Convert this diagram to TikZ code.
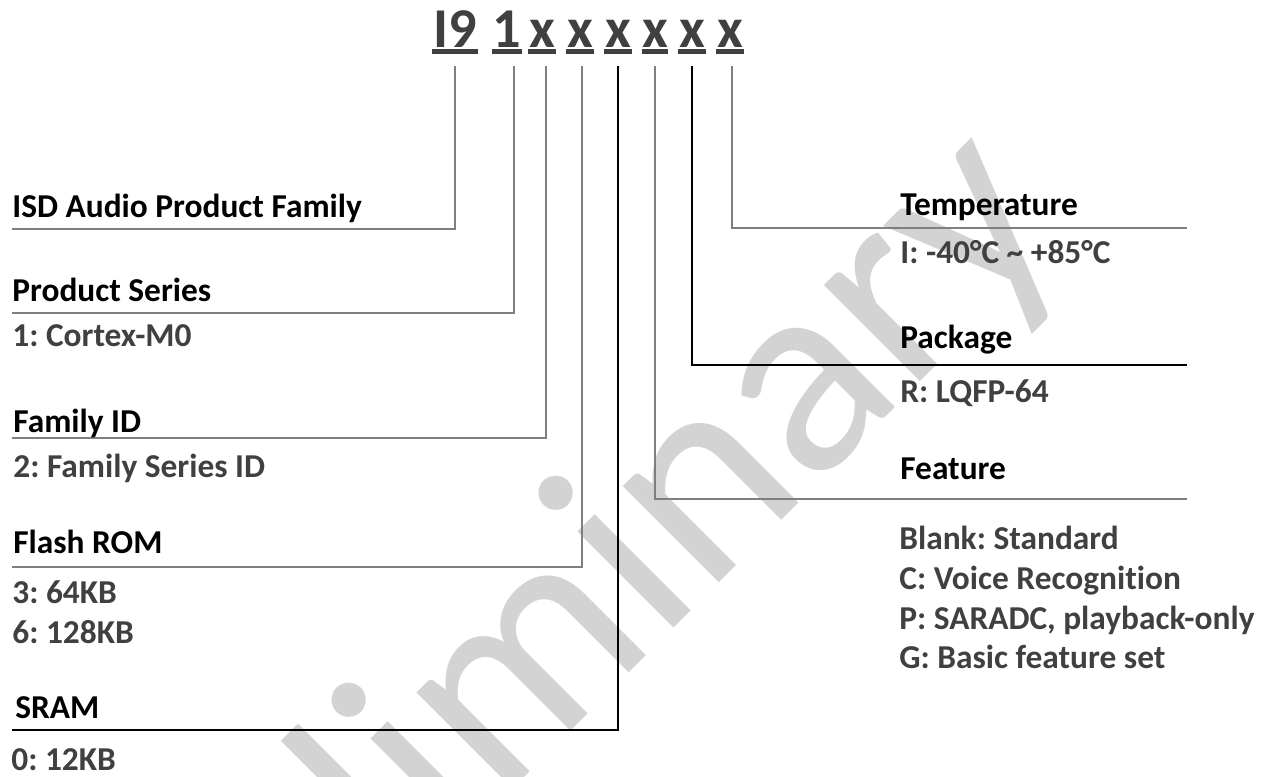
\documentclass[tikz,border=0pt]{standalone}
\usepackage{fontspec}
\setmainfont{Carlito}[Ligatures={NoCommon}]
\frenchspacing
\definecolor{codegray}{HTML}{404040}
\definecolor{valgray}{HTML}{404040}
\definecolor{linegray}{HTML}{7F7F7F}
\definecolor{wmgray}{HTML}{D3D3D3}
\tikzset{
  head/.style={font=\fontsize{19}{23}\selectfont\bfseries, text=black, inner sep=0pt, anchor=base west},
  value/.style={head, text=valgray},
  codebit/.style={font=\fontsize{32}{38}\selectfont\bfseries, text=codegray, inner sep=0pt, text depth=0pt, anchor=base},
  uline/.style={codegray, line width=1mm},
  conn/.style={linegray, line width=0.3mm},
}

\begin{document}
\begin{tikzpicture}[x=0.2mm, y=-0.2mm]
\useasboundingbox (0,0) rectangle (1272,776);

% watermark
\node[text=wmgray, font=\fontsize{162}{162}\selectfont, rotate=45, anchor=base, inner sep=0pt] (wmark) at (602,700) {Preliminary};

% part number
\node[codebit, minimum width=9.2mm] (cisd) at (455,47) {I9};
\node[codebit, minimum width=6mm] (cser) at (507,47) {1};
\node[codebit, minimum width=5.6mm] (cfam) at (542,47) {x};
\node[codebit, minimum width=5.6mm] (cflash) at (580,47) {x};
\node[codebit, minimum width=5.6mm] (csram) at (618,47) {x};
\node[codebit, minimum width=5.2mm] (cfeat) at (655,47) {x};
\node[codebit, minimum width=5.6mm] (cpkg) at (692,47) {x};
\node[codebit, minimum width=5.6mm] (ctemp) at (730,47) {x};

\draw [uline] ([yshift=-0.9mm]cisd.south west) -- ([yshift=-0.9mm]cisd.south east);
\draw [uline] ([yshift=-0.9mm]cser.south west) -- ([yshift=-0.9mm]cser.south east);
\draw [uline] ([yshift=-0.9mm]cfam.south west) -- ([yshift=-0.9mm]cfam.south east);
\draw [uline] ([yshift=-0.9mm]cflash.south west) -- ([yshift=-0.9mm]cflash.south east);
\draw [uline] ([yshift=-0.9mm]csram.south west) -- ([yshift=-0.9mm]csram.south east);
\draw [uline] ([yshift=-0.9mm]cfeat.south west) -- ([yshift=-0.9mm]cfeat.south east);
\draw [uline] ([yshift=-0.9mm]cpkg.south west) -- ([yshift=-0.9mm]cpkg.south east);
\draw [uline] ([yshift=-0.9mm]ctemp.south west) -- ([yshift=-0.9mm]ctemp.south east);

% line ends
\coordinate (isdend) at (12,229);
\coordinate (serend) at (12,313);
\coordinate (famend) at (12,438);
\coordinate (flashend) at (12,567);
\coordinate (sramend) at (12,730);
\coordinate (tempend) at (1187,228);
\coordinate (pkgend) at (1187,365);
\coordinate (featend) at (1187,499);

\draw [conn] ([yshift=-3.8mm]cisd.south) |- (isdend);
\draw [conn] ([xshift=1.4mm,yshift=-3.8mm]cser.south) |- (serend);
\draw [conn] ([xshift=0.8mm,yshift=-3.8mm]cfam.south) |- (famend);
\draw [conn] ([xshift=0.4mm,yshift=-3.8mm]cflash.south) |- (flashend);
\draw [conn, black] ([yshift=-3.8mm]csram.south) |- (sramend);
\draw [conn] ([yshift=-3.8mm]cfeat.south) |- (featend);
\draw [conn, black] ([yshift=-3.8mm]cpkg.south) |- (pkgend);
\draw [conn] ([xshift=0.4mm,yshift=-3.8mm]ctemp.south) |- (tempend);

% left labels
\node[head] (isd) at (12,217) {ISD Audio Product Family};
\node[head] (series) at (12,301) {Product Series};
\node[value] (seriesv) at (12,346) {1: Cortex-M0};
\node[head] (famid) at (13,432) {Family ID};
\node[value] (famidv) at (13,477) {2: Family Series ID};
\node[head] (flash) at (13,553) {Flash ROM};
\node[value] (flashv1) at (12,603) {3: 64KB};
\node[value] (flashv2) at (12,643) {6: 128KB};
\node[head] (sram) at (15,718) {SRAM};
\node[value] (sramv) at (11,770) {0: 12KB};

% right labels
\node[head] (temp) at (900,215) {Temperature};
\node[value] (tempv) at (900,263) {I: -40°C \textasciitilde{} +85°C};
\node[head] (pkg) at (900,348) {Package};
\node[value] (pkgv) at (900,402) {R: LQFP-64};
\node[head] (feat) at (900,479) {Feature};
\node[value] (featv1) at (899,549) {Blank: Standard};
\node[value] (featv2) at (899,589) {C: Voice Recognition};
\node[value] (featv3) at (899,629) {P: SARADC, playback-only};
\node[value] (featv4) at (899,668) {G: Basic feature set};

\end{tikzpicture}
\end{document}
